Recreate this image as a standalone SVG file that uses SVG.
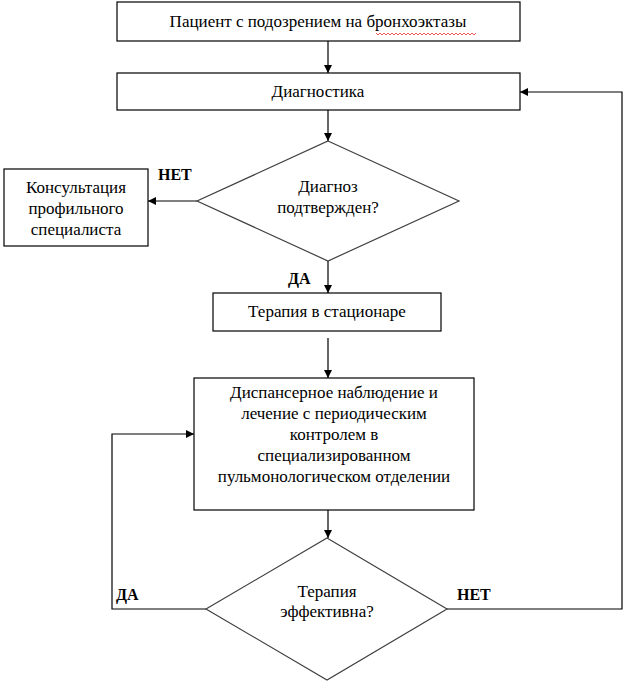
<svg xmlns="http://www.w3.org/2000/svg" width="627" height="684" viewBox="0 0 627 684">
<defs>
<marker id="ah" markerWidth="8" markerHeight="8" refX="8" refY="4" orient="auto" markerUnits="userSpaceOnUse">
<path d="M0,0 L8,4 L0,8 Z" fill="#000"/>
</marker>
</defs>
<rect width="627" height="684" fill="#fff"/>
<g id="connectors" fill="none" stroke="#000" stroke-width="1.2">
<line x1="328" y1="41" x2="328" y2="73" marker-end="url(#ah)"/>
<line x1="328" y1="110" x2="328" y2="141" marker-end="url(#ah)"/>
<line x1="197" y1="201" x2="148" y2="201" marker-end="url(#ah)"/>
<line x1="328" y1="261" x2="328" y2="293" marker-end="url(#ah)"/>
<line x1="328" y1="338" x2="328" y2="378" marker-end="url(#ah)"/>
<line x1="328" y1="510" x2="328" y2="538" marker-end="url(#ah)"/>
<polyline points="206,609 112,609 112,434 194,434" marker-end="url(#ah)"/>
<polyline points="447,609 622,609 622,92 520,92" marker-end="url(#ah)"/>
</g>
<g id="labels" fill="#000">
<text x="158" y="180" style="font-family:'Liberation Serif','Times New Roman',serif;font-size:16px;font-weight:bold">НЕТ</text>
<text x="288" y="284" style="font-family:'Liberation Serif','Times New Roman',serif;font-size:16px;font-weight:bold">ДА</text>
<text x="116" y="600" style="font-family:'Liberation Serif','Times New Roman',serif;font-size:16px;font-weight:bold">ДА</text>
<text x="457" y="600" style="font-family:'Liberation Serif','Times New Roman',serif;font-size:16px;font-weight:bold">НЕТ</text>
</g>
<g id="n1">
<rect x="117" y="2" width="403" height="39" fill="#fff" stroke="#000" stroke-width="1.2"/>
<text x="318" y="27" text-anchor="middle" style="font-family:'Liberation Serif','Times New Roman',serif;font-size:17px">Пациент с подозрением на бронхоэктазы</text>
<polyline points="376,33 378,35 380,33 382,35 384,33 386,35 388,33 390,35 392,33 394,35 396,33 398,35 400,33 402,35 404,33 406,35 408,33 410,35 412,33 414,35 416,33 418,35 420,33 422,35 424,33 426,35 428,33 430,35 432,33 434,35 436,33 438,35 440,33 442,35 444,33 446,35 448,33 450,35 452,33 454,35 456,33 458,35 460,33 462,35 464,33 466,35 468,33 470,35 472,33 474,35 476,33" fill="none" stroke="#e03030" stroke-width="0.8"/>
</g>
<g id="n2">
<rect x="117" y="73" width="403" height="37" fill="#fff" stroke="#000" stroke-width="1.2"/>
<text x="318" y="97" text-anchor="middle" style="font-family:'Liberation Serif','Times New Roman',serif;font-size:17px">Диагностика</text>
</g>
<g id="d1">
<polygon points="328,141 459,201 328,261 197,201" fill="#fff" stroke="#404040" stroke-width="1.2"/>
<text x="328" y="192" text-anchor="middle" style="font-family:'Liberation Serif','Times New Roman',serif;font-size:17px">Диагноз</text>
<text x="328" y="213" text-anchor="middle" style="font-family:'Liberation Serif','Times New Roman',serif;font-size:17px">подтвержден?</text>
</g>
<g id="n3">
<rect x="4" y="169" width="144" height="77" fill="#fff" stroke="#000" stroke-width="1.2"/>
<text x="76" y="193" text-anchor="middle" style="font-family:'Liberation Serif','Times New Roman',serif;font-size:17px">Консультация</text>
<text x="76" y="214" text-anchor="middle" style="font-family:'Liberation Serif','Times New Roman',serif;font-size:17px">профильного</text>
<text x="76" y="235" text-anchor="middle" style="font-family:'Liberation Serif','Times New Roman',serif;font-size:17px">специалиста</text>
</g>
<g id="n4">
<rect x="213" y="293" width="228" height="38" fill="#fff" stroke="#000" stroke-width="1.2"/>
<text x="327" y="317" text-anchor="middle" style="font-family:'Liberation Serif','Times New Roman',serif;font-size:17px">Терапия в стационаре</text>
</g>
<g id="n5">
<rect x="194" y="378" width="280" height="132" fill="#fff" stroke="#000" stroke-width="1.2"/>
<text x="334" y="398" text-anchor="middle" style="font-family:'Liberation Serif','Times New Roman',serif;font-size:17px">Диспансерное наблюдение и</text>
<text x="334" y="419" text-anchor="middle" style="font-family:'Liberation Serif','Times New Roman',serif;font-size:17px">лечение с периодическим</text>
<text x="334" y="440" text-anchor="middle" style="font-family:'Liberation Serif','Times New Roman',serif;font-size:17px">контролем в</text>
<text x="334" y="461" text-anchor="middle" style="font-family:'Liberation Serif','Times New Roman',serif;font-size:17px">специализированном</text>
<text x="334" y="482" text-anchor="middle" style="font-family:'Liberation Serif','Times New Roman',serif;font-size:17px">пульмонологическом отделении</text>
</g>
<g id="d2">
<polygon points="327,538 447,609 327,680 206,609" fill="#fff" stroke="#404040" stroke-width="1.2"/>
<text x="327" y="597" text-anchor="middle" style="font-family:'Liberation Serif','Times New Roman',serif;font-size:17px">Терапия</text>
<text x="327" y="617" text-anchor="middle" style="font-family:'Liberation Serif','Times New Roman',serif;font-size:17px">эффективна?</text>
</g>
</svg>
